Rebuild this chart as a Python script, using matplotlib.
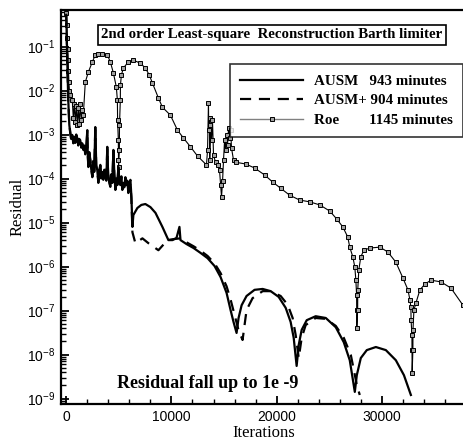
import matplotlib
matplotlib.use("Agg")
import matplotlib.pyplot as plt
from matplotlib.lines import Line2D
from matplotlib.ticker import LogLocator, FixedLocator, NullFormatter, MultipleLocator
import numpy as np

# ---------------- data (iterations, log10 residual) ----------------
ausm_x = [0, 95, 190, 290, 380, 470, 570, 670, 760, 860, 950, 1050, 1140, 1240, 1330, 1430,
          1520, 1620, 1710, 1810, 1900, 2000, 2050, 2100, 2190, 2290, 2380, 2480, 2570, 2660,
          2760, 2850, 2950, 3050, 3140, 3240, 3330, 3420, 3520, 3620, 3710, 3810, 3900, 3950,
          4000, 4100, 4190, 4290, 4380, 4480, 4570, 4670, 4760, 4860, 4950, 5050, 5140, 5240,
          5330, 5430, 5520, 5620, 5710, 5810, 5900, 6000, 6100, 6190, 6290,
          6380, 6760, 7140, 7520, 8000, 8480, 9140, 9710,
          10100, 10480, 10760, 10860, 11430, 12100, 12760, 13430, 14100, 14670, 15240,
          15620, 15900, 16190, 16380, 16670, 17140, 17900, 18670, 19430, 20190, 20860,
          21330, 21620, 21900, 22100, 22380, 22860, 23710, 24670, 25620, 26380, 26950,
          27430, 27620, 28000, 28570, 29430, 30380, 31330, 32100, 32760]
ausm_logr = [-0.28, -1.31, -2.22, -2.78, -2.97, -3.10, -3.01, -3.20, -3.05, -3.19, -3.00,
             -3.08, -3.25, -3.10, -3.13, -3.30, -3.20, -3.35, -3.25, -3.43, -3.30, -2.90,
             -3.50, -3.74, -3.40, -3.58, -3.80, -3.97, -3.60, -3.85, -2.83, -3.70, -3.81,
             -4.10, -3.80, -3.69, -4.00, -3.85, -4.03, -3.80, -3.92, -4.05, -3.28, -3.70,
             -3.92, -4.10, -4.19, -3.90, -4.10, -3.35, -3.90, -4.26, -4.00, -4.15, -3.74,
             -4.05, -4.15, -3.95, -4.26, -4.10, -4.20, -3.97, -4.15, -4.05, -4.33, -4.10,
             -4.03, -4.40, -5.10,
             -4.83, -4.67, -4.60, -4.58, -4.65, -4.78, -5.10, -5.40, -5.40, -5.35, -5.10,
             -5.40, -5.49, -5.58, -5.69, -5.81, -5.99, -6.24, -6.60, -6.99, -7.26, -7.51,
             -7.17, -6.88, -6.67, -6.53, -6.51, -6.56, -6.69, -6.94, -7.26, -7.62, -8.26,
             -7.78, -7.44, -7.22, -7.13, -7.17, -7.38, -7.72, -8.13, -8.85, -8.47, -8.08,
             -7.90, -7.83, -7.90, -8.13, -8.47, -8.92]

ausmp_x = [0, 95, 190, 290, 380, 470, 570, 670, 760, 860, 950, 1050, 1140, 1240, 1330, 1430,
           1520, 1620, 1710, 1810, 1900, 2000, 2050, 2100, 2190, 2290, 2380, 2480, 2570, 2660,
           2760, 2850, 2950, 3050, 3140, 3240, 3330, 3420, 3520, 3620, 3710, 3810, 3900, 3950,
           4000, 4100, 4190, 4290, 4380, 4480, 4570, 4670, 4760, 4860, 4950, 5050, 5140, 5240,
           5330, 5430, 5520, 5620, 5710, 5810, 5900, 6000, 6100, 6190, 6290,
           6570, 7240, 7810, 8760, 9620, 10100, 10860, 11430,
           12100, 12760, 13430, 14100, 14670, 15240, 15620, 16000, 16380, 16760, 17140,
           17710, 18670, 19430, 20380, 21050, 21520, 21810, 22100, 22380, 22760, 23710,
           24670, 25620, 26380, 27050, 27620, 27900]
ausmp_logr = [-0.28, -1.30, -2.20, -2.75, -2.95, -3.12, -3.05, -3.18, -3.08, -3.15, -3.04,
              -3.10, -3.22, -3.14, -3.18, -3.28, -3.22, -3.30, -3.28, -3.45, -3.34, -2.95,
              -3.48, -3.70, -3.44, -3.60, -3.78, -3.95, -3.64, -3.82, -2.90, -3.72, -3.85,
              -4.05, -3.84, -3.72, -3.98, -3.88, -4.00, -3.84, -3.95, -4.02, -3.32, -3.74,
              -3.95, -4.08, -4.17, -3.94, -4.08, -3.40, -3.94, -4.24, -4.02, -4.12, -3.78,
              -4.08, -4.12, -3.98, -4.24, -4.12, -4.18, -4.00, -4.12, -4.08, -4.30, -4.12,
              -4.15, -4.45, -5.22,
              -5.47, -5.36, -5.47, -5.63, -5.40, -5.38, -5.36, -5.45, -5.54, -5.64, -5.76,
              -5.93, -6.15, -6.45, -6.75, -7.10, -7.45, -7.67, -6.99, -6.72, -6.56, -6.56,
              -6.67, -6.87, -7.17, -7.56, -8.08, -7.62, -7.33, -7.17, -7.19, -7.35, -7.62,
              -8.01, -8.69, -8.92]

roe_x = [0, 40, 80, 120, 160, 200, 250, 300, 380, 570, 670, 760, 860, 950, 1050, 1140, 1240,
         1330, 1430, 1520, 1620, 1810, 2100, 2480, 2760, 3050, 3430, 3900, 4190, 4480, 4760,
         4860, 4880, 4950, 4960, 4970, 5050, 5060, 5140, 5150, 5240, 5430, 5900, 6380, 7050,
         7520, 7900, 8190, 8760, 9140, 9900, 10570, 11140, 11810, 12480, 13330, 13430, 13520,
         13540, 13620, 13640, 13710, 13810, 13900, 14000, 14190, 14380, 14570, 14670, 14760,
         14860, 14950, 15050, 15140, 15240, 15330, 15430, 15520, 15620, 15710, 15900, 16100,
         17050, 17900, 18860, 19620, 20380, 21240, 22190, 23140, 24100, 25050, 25710, 26290,
         26760, 26950, 27240, 27430, 27530, 27600, 27610, 27620, 27700, 27710, 27810, 28000,
         28290, 28860, 29810, 30570, 31330, 32000, 32480, 32670, 32760, 32780, 32860, 32870,
         32880, 32950, 32960, 33050, 33240, 33620, 34100, 34670, 35620, 36570, 37710, 38290]
roe_logr = [-0.24, -0.50, -0.80, -1.05, -1.30, -1.55, -1.80, -2.00, -2.10, -2.22, -2.63,
            -2.31, -2.72, -2.35, -2.78, -2.40, -2.76, -2.31, -2.67, -2.44, -2.56, -1.81,
            -1.58, -1.35, -1.19, -1.17, -1.17, -1.19, -1.35, -1.60, -1.92, -2.22, -2.67,
            -3.13, -3.58, -3.74, -3.35, -2.78, -2.22, -1.88, -1.65, -1.49, -1.35, -1.31,
            -1.38, -1.49, -1.65, -1.83, -2.17, -2.38, -2.56, -2.90, -3.08, -3.28, -3.49,
            -3.69, -3.35, -2.28, -2.90, -2.63, -3.58, -2.78, -3.13, -2.67, -3.47, -3.63,
            -3.69, -3.81, -4.15, -4.42, -4.05, -3.58, -3.13, -3.35, -3.01, -3.24, -2.85,
            -3.08, -2.90, -3.31, -3.58, -3.63, -3.67, -3.76, -3.92, -4.08, -4.22, -4.38,
            -4.49, -4.53, -4.60, -4.74, -4.92, -5.10, -5.33, -5.56, -5.78, -6.01, -6.31,
            -6.65, -6.99, -7.40, -6.99, -6.53, -6.08, -5.78, -5.63, -5.58, -5.56, -5.67,
            -5.90, -6.26, -6.53, -6.76, -6.92, -7.22, -7.56, -7.90, -8.43, -7.90, -7.44,
            -6.99, -6.83, -6.53, -6.40, -6.31, -6.35, -6.49, -6.88, -7.17]

series_labels = ["AUSM", "AUSM+", "Roe"]
series_times = ["943 minutes", "904 minutes", "1145 minutes"]
x_ticks = [0, 10000, 20000, 30000]
y_exps = [-1, -2, -3, -4, -5, -6, -7, -8, -9]

# ---------------- figure ----------------
SERIF = "Liberation Serif"
SANS = "Liberation Sans"
fig = plt.figure(figsize=(4.64, 4.41), dpi=100)
ax = fig.add_axes([61/464, 37/441, (466-61)/464, (404-10)/441])

ax.plot(roe_x, 10**np.array(roe_logr), color="black", lw=0.8, marker="s", ms=3.3,
        mfc="#a0a0a0", mec="black", mew=0.7, zorder=3)
ax.plot(ausm_x, 10**np.array(ausm_logr), color="black", lw=1.6, zorder=4)
ax.plot(ausmp_x, 10**np.array(ausmp_logr), color="black", lw=1.6, ls=(0, (5, 3.5)), zorder=4)

ax.set_yscale("log")
ax.set_xlim(-500, 38000)
ax.set_ylim(10**-9.125, 10**-0.17)

ax.xaxis.set_major_locator(FixedLocator(x_ticks))
ax.xaxis.set_minor_locator(MultipleLocator(2000))
ax.set_xticklabels([str(v) for v in x_ticks], fontname=SANS, fontsize=10)
ax.yaxis.set_major_locator(FixedLocator([10.0**e for e in y_exps]))
ax.yaxis.set_minor_locator(LogLocator(base=10, subs=np.arange(2, 10)))
ax.yaxis.set_minor_formatter(NullFormatter())
ax.set_yticklabels([r"$\mathregular{10^{%d}}$" % e for e in y_exps], fontname=SANS, fontsize=10)

ax.tick_params(which="major", direction="in", length=6, width=1.3, top=False, right=False, pad=4)
ax.tick_params(which="minor", direction="in", length=3.5, width=1.0, top=False, right=False)
for s in ax.spines.values():
    s.set_linewidth(1.6)

ax.set_xlabel("Iterations", fontname=SERIF, fontsize=12, labelpad=1)
ax.set_ylabel("Residual", fontname=SERIF, fontsize=12, labelpad=1)

ax.text(0.521, 0.937, "2nd order Least-square  Reconstruction Barth limiter", transform=ax.transAxes,
        ha="center", va="center", fontname=SERIF, fontweight="bold", fontsize=10.7,
        bbox=dict(boxstyle="square,pad=0.22", fc="white", ec="black", lw=1.2))
ax.text(0.138, 0.052, "Residual fall up to 1e -9", transform=ax.transAxes, ha="left", va="center",
        fontname=SERIF, fontweight="bold", fontsize=13)

handles = [Line2D([], [], color="black", lw=1.6),
           Line2D([], [], color="black", lw=1.6, ls=(0, (5, 3.5))),
           Line2D([], [], color="#808080", lw=1.0, marker="s", ms=3.5, mfc="#a0a0a0",
                  mec="black", mew=0.7, markevery=[1])]
labels = ["%s   %s" % (series_labels[0], series_times[0]),
          "%s %s" % (series_labels[1], series_times[1]),
          "%s        %s" % (series_labels[2], series_times[2])]
handles[2].set_data([0, 1, 2], [0, 0, 0])
leg = ax.legend(handles, labels, loc="upper right", bbox_to_anchor=(0.9926, 0.863),
                borderaxespad=0.0,
                prop=dict(family=SERIF, weight="bold", size=10.8), frameon=True, fancybox=False,
                edgecolor="black", handlelength=4.2, handletextpad=0.7, labelspacing=0.4,
                borderpad=0.7)
leg.get_frame().set_linewidth(1.2)

fig.savefig("out.png", dpi=100)
